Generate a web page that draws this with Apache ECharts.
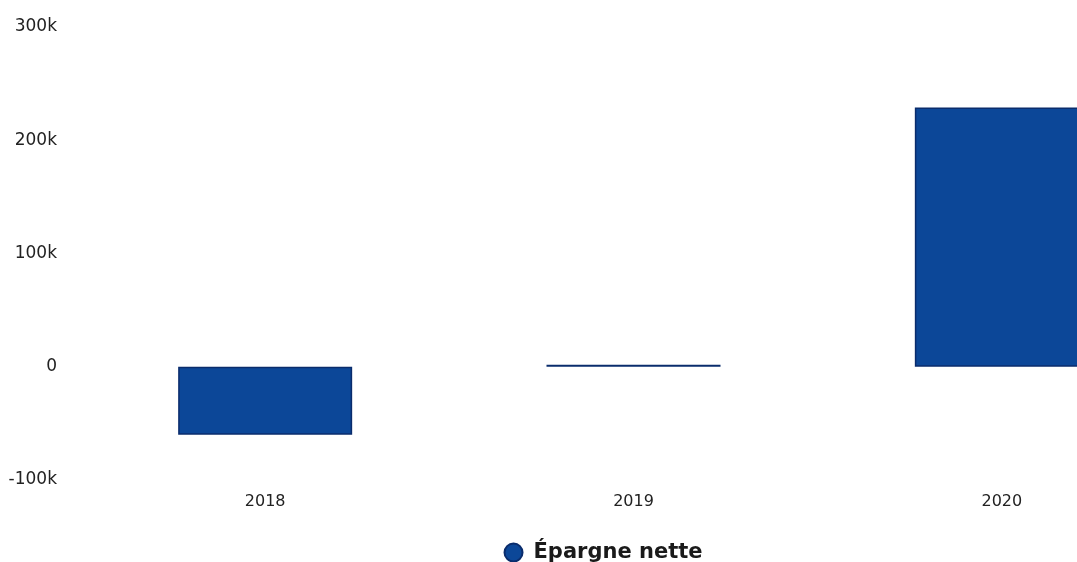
<!DOCTYPE html>
<html>
<head>
<meta charset="utf-8">
<script src="https://cdn.jsdelivr.net/npm/echarts@6/dist/echarts.min.js"></script>
<style>
  html, body { margin: 0; padding: 0; background: #fff; overflow: hidden; width: 1077px; height: 562px; }
  #chart { width: 1206px; height: 562px; }
</style>
</head>
<body>
<div id="chart"></div>
<script>
// Épargne nette par année
const years = ['2018', '2019', '2020'];
const epargneNette = [-60000, 1800, 229000];
const seriesName = 'Épargne nette';

const yMin = -100000;
const yMax = 300000;
const yStep = 100000;

function formatK(v) {
  if (v === 0) return '0';
  return (v / 1000) + 'k';
}

const chart = echarts.init(document.getElementById('chart'), null, { renderer: 'canvas' });

chart.setOption({
  animation: false,
  backgroundColor: '#ffffff',
  textStyle: { fontFamily: 'DejaVu Sans' },
  grid: { left: 81, right: 20, top: 27, bottom: 82, containLabel: false },
  legend: {
    data: [seriesName],
    left: 'center',
    top: 537,
    icon: 'circle',
    itemWidth: 18,
    itemHeight: 18,
    itemGap: 12,
    textStyle: { fontFamily: 'DejaVu Sans', fontWeight: 'bold', fontSize: 21, color: '#1a1a1a', padding: [0, 0, 0, 6] }
  },
  xAxis: {
    type: 'category',
    data: years,
    axisLine: { show: false },
    axisTick: { show: false },
    splitLine: { show: false },
    axisLabel: { fontFamily: 'DejaVu Sans', fontSize: 16, color: '#222', margin: 14 }
  },
  yAxis: {
    type: 'value',
    min: yMin,
    max: yMax,
    interval: yStep,
    axisLine: { show: false },
    axisTick: { show: false },
    splitLine: { show: false },
    axisLabel: { fontFamily: 'DejaVu Sans', fontSize: 17, color: '#222', margin: 24, padding: [8, 0, 0, 0], formatter: formatK }
  },
  series: [{
    name: seriesName,
    type: 'bar',
    data: epargneNette,
    barWidth: 174,
    itemStyle: {
      color: '#0c4798',
      borderColor: '#0a2c6c',
      borderWidth: 1.5
    }
  }]
});
</script>
</body>
</html>
